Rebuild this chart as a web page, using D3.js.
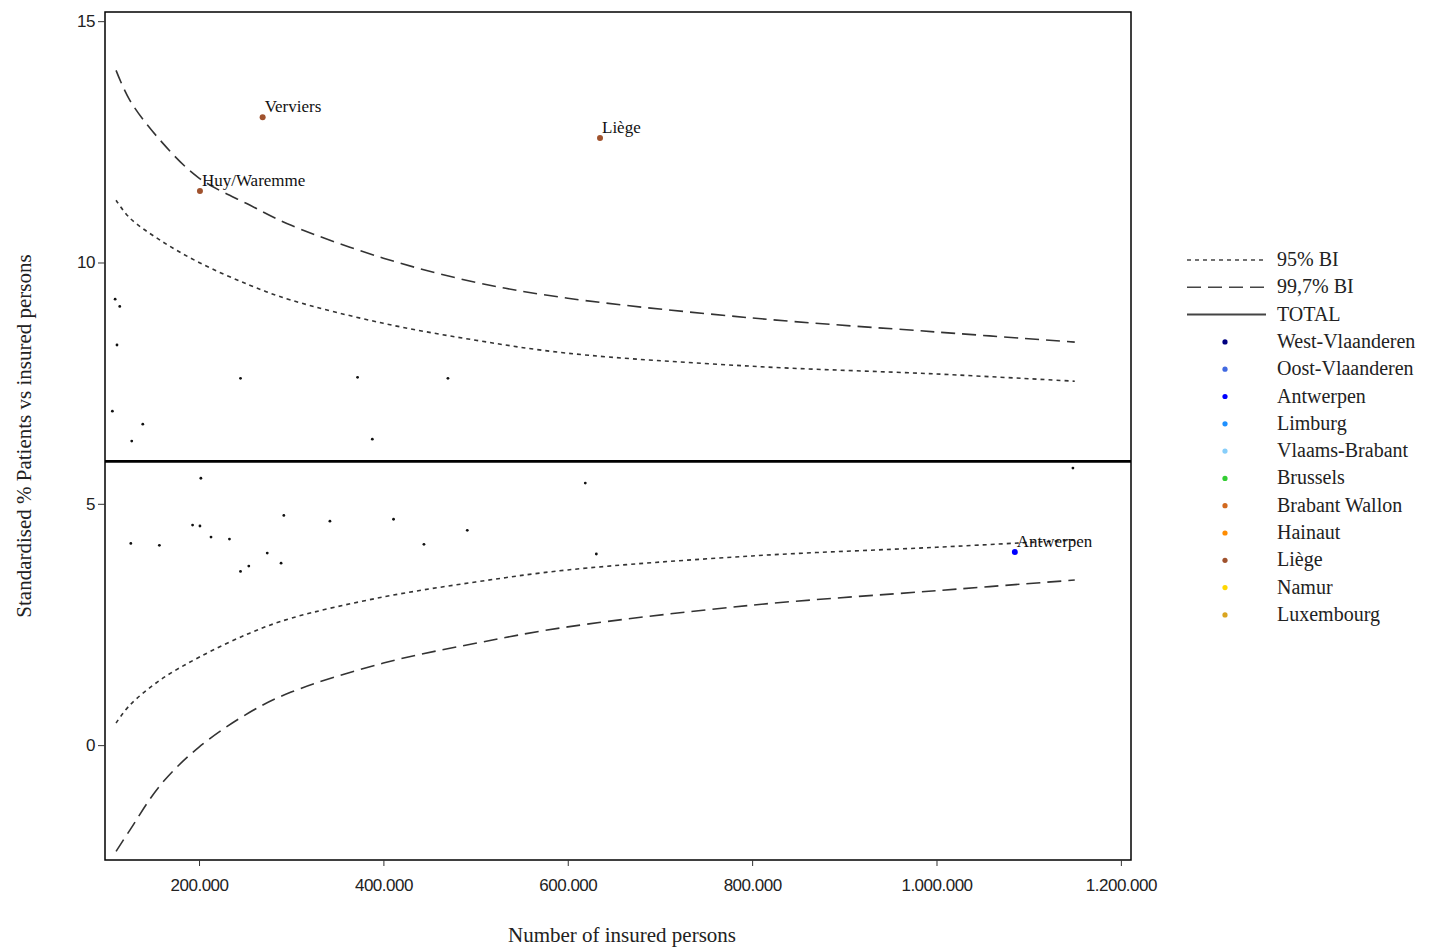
<!DOCTYPE html>
<html><head><meta charset="utf-8">
<script src="https://cdn.jsdelivr.net/npm/d3@7"></script>
<style>body{margin:0;background:#fff}text{font-family:"Liberation Serif","Times New Roman",serif}</style>
</head><body><svg id="c" width="1437" height="949"></svg>
<script>
const total = 5.88;
const curveX = [110000,125000,158000,200000,255000,300000,400000,500000,600000,800000,1000000,1150000];
const upper997 = [13.98,13.36,12.53,11.75,11.19,10.77,10.09,9.59,9.26,8.85,8.56,8.35];
const lower997 = [-2.2,-1.76,-0.83,-0.04,0.68,1.1,1.7,2.11,2.45,2.9,3.2,3.42];
const upper95 = [11.29,10.92,10.46,10.0,9.53,9.22,8.74,8.39,8.12,7.85,7.69,7.54];
const lower95 = [0.46,0.83,1.35,1.82,2.32,2.63,3.07,3.38,3.63,3.92,4.1,4.25];
const otherX = [109000,114000,111000,245000,372000,470000,106000,139000,127000,388000,202000,619000,126000,157000,193000,201000,213000,233000,292000,342000,411000,444000,491000,631000,274000,289000,245000,254000,1148000];
const otherY = [9.24,9.09,8.29,7.60,7.62,7.60,6.92,6.65,6.30,6.34,5.53,5.43,4.18,4.14,4.56,4.54,4.31,4.27,4.76,4.64,4.68,4.16,4.45,3.96,3.98,3.77,3.60,3.71,5.74];
const labNames = ["Verviers","Liège","Huy/Waremme","Antwerpen"];
const labX = [269000,635000,201000,1085000];
const labY = [13.01,12.58,11.48,4.0];
const labProv = ["Liège","Liège","Liège","Antwerpen"];
const provinces = ["West-Vlaanderen","Oost-Vlaanderen","Antwerpen","Limburg","Vlaams-Brabant","Brussels","Brabant Wallon","Hainaut","Liège","Namur","Luxembourg"];
const provColors = ["#000080","#4169E1","#0000FF","#1E90FF","#87CEFA","#32CD32","#D2691E","#FF8C00","#A0522D","#FFD700","#DAA520"];
const xTicks = [200000,400000,600000,800000,1000000,1200000];
const yTicks = [0,5,10,15];

const svg = d3.select("#c");
const L=105,R=1131,T=12,B=860;
const x = d3.scaleLinear().domain([98000,1211000]).range([L,R]);
const y = d3.scaleLinear().domain([-2.38,15.19]).range([B,T]);
const fmt = v => d3.format(",")(v).replace(/,/g,".");
const col = d3.scaleOrdinal().domain(provinces).range(provColors);

svg.append("rect").attr("x",L).attr("y",T).attr("width",R-L).attr("height",B-T).attr("fill","none").attr("stroke","#000").attr("stroke-width",1.5);
const xa = svg.append("g").attr("transform",`translate(0,${B})`).call(d3.axisBottom(x).tickValues(xTicks).tickFormat(fmt).tickSize(6).tickSizeOuter(0));
const ya = svg.append("g").attr("transform",`translate(${L},0)`).call(d3.axisLeft(y).tickValues(yTicks).tickSize(7).tickSizeOuter(0));
[xa,ya].forEach(a=>{a.select(".domain").remove();a.selectAll("text").attr("font-size",17).attr("fill","#222").style("font-family","Liberation Sans, Arial, sans-serif").style("letter-spacing","-0.5px");a.selectAll("line").attr("stroke","#333");});
xa.selectAll("text").attr("dy","1.3em");

const line = arr => d3.line().x((d,i)=>x(curveX[i])).y(d=>y(d)).curve(d3.curveCatmullRom)(arr);
svg.append("clipPath").attr("id","cl").append("rect").attr("x",L).attr("y",T).attr("width",R-L).attr("height",B-T);
const g = svg.append("g").attr("clip-path","url(#cl)");
[[upper95,"4,4"],[lower95,"4,4"],[upper997,"14,7"],[lower997,"14,7"]].forEach(([a,d])=>
  g.append("path").attr("d",line(a)).attr("fill","none").attr("stroke","#333").attr("stroke-width",1.6).attr("stroke-dasharray",d));
g.append("line").attr("x1",L).attr("x2",R).attr("y1",y(total)).attr("y2",y(total)).attr("stroke","#000").attr("stroke-width",2.8);

g.selectAll(".o").data(otherX).join("circle").attr("cx",d=>x(d)).attr("cy",(d,i)=>y(otherY[i])).attr("r",1.4).attr("fill","#111");
g.selectAll(".p").data(labX).join("circle").attr("cx",d=>x(d)).attr("cy",(d,i)=>y(labY[i])).attr("r",3).attr("fill",(d,i)=>col(labProv[i]));
g.selectAll(".t").data(labNames).join("text").attr("x",(d,i)=>x(labX[i])+2).attr("y",(d,i)=>y(labY[i])-5).attr("font-size",17).attr("fill","#111").text(d=>d);

svg.append("text").attr("x",622).attr("y",942).attr("text-anchor","middle").attr("font-size",21).attr("fill","#222").text("Number of insured persons");
svg.append("text").attr("transform","translate(31,436) rotate(-90)").attr("text-anchor","middle").attr("font-size",21).attr("fill","#222").text("Standardised % Patients vs insured persons");

const lg = svg.append("g");
const items = [["95% BI","4,4"],["99,7% BI","14,7"],["TOTAL",null]];
items.forEach(([t,d],i)=>{const yy=260+i*27.3;
  lg.append("line").attr("x1",1187).attr("x2",1266).attr("y1",yy).attr("y2",yy).attr("stroke","#444").attr("stroke-width",d?1.5:2).attr("stroke-dasharray",d);
  lg.append("text").attr("x",1277).attr("y",yy+6).attr("font-size",20).attr("fill","#222").text(t);});
provinces.forEach((p,i)=>{const yy=260+(i+3)*27.3;
  lg.append("circle").attr("cx",1225).attr("cy",yy).attr("r",2.6).attr("fill",col(p));
  lg.append("text").attr("x",1277).attr("y",yy+6).attr("font-size",20).attr("fill","#222").text(p);});
</script></body></html>
